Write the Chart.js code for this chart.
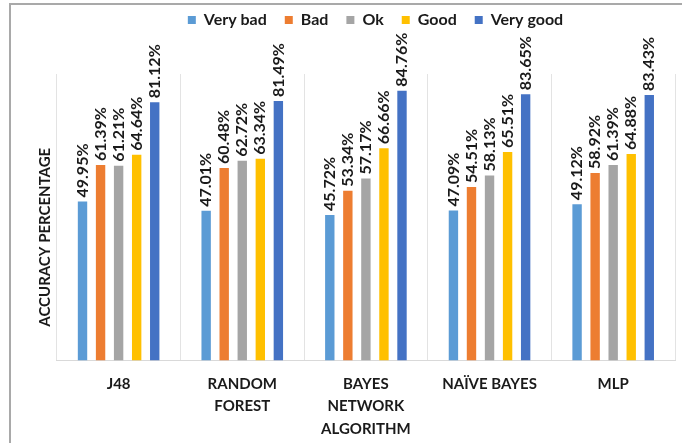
<!DOCTYPE html>
<html>
<head>
<meta charset="utf-8">
<script src="https://cdn.jsdelivr.net/npm/chart.js@4.4.1/dist/chart.umd.min.js"></script>
<style>
  html, body { margin: 0; padding: 0; background: #fff; }
  #wrap { position: relative; width: 682px; height: 443px; }
  #frame {
    position: absolute; left: 9px; top: 3px; right: -4px; bottom: -4px;
    border-left: 2px solid #a9a9a9; border-top: 2px solid #a9a9a9;
    pointer-events: none;
  }
  canvas { position: absolute; left: 0; top: 0; }
</style>
</head>
<body>
<div id="wrap">
  <canvas id="accuracyChart" width="682" height="443"></canvas>
  <div id="frame"></div>
</div>
<script>
// Accuracy per algorithm, split by rating class
const algorithms = ['J48', ['RANDOM', 'FOREST'], ['BAYES', 'NETWORK', 'ALGORITHM'], 'NAÏVE BAYES', 'MLP'];
const classNames = ['Very bad', 'Bad', 'Ok', 'Good', 'Very good'];
const classColors = ['#5b9bd5', '#ed7d31', '#a5a5a5', '#ffc000', '#4472c4'];

const veryBad = [49.95, 47.01, 45.72, 47.09, 49.12];
const bad = [61.39, 60.48, 53.34, 54.51, 58.92];
const ok = [61.21, 62.72, 57.17, 58.13, 61.39];
const good = [64.64, 63.34, 66.66, 65.51, 64.88];
const veryGood = [81.12, 81.49, 84.76, 83.65, 83.43];

const seriesValues = [veryBad, bad, ok, good, veryGood];
const FONT = 'Lato, "Open Sans", sans-serif';
const TEXT = '#1a1a1a';
const AXIS_TITLE = 'ACCURACY PERCENTAGE';

// vertical value labels above every bar
const barValueLabels = {
    id: 'barValueLabels',
    afterDatasetsDraw(chart) {
        const ctx = chart.ctx;
        ctx.save();
        ctx.font = 'bold 16px ' + FONT;
        ctx.fillStyle = TEXT;
        ctx.textAlign = 'left';
        ctx.textBaseline = 'middle';
        chart.data.datasets.forEach((ds, i) => {
            chart.getDatasetMeta(i).data.forEach((bar, j) => {
                ctx.save();
                ctx.translate(bar.x, bar.y - 4);
                ctx.rotate(-Math.PI / 2);
                ctx.fillText(ds.data[j].toFixed(2) + '%', 0, 0);
                ctx.restore();
            });
        });
        ctx.restore();
    }
};

// y title drawn a little below the middle of the plot
const yAxisTitle = {
    id: 'yAxisTitle',
    afterDraw(chart) {
        const { ctx, chartArea } = chart;
        ctx.save();
        ctx.translate(chartArea.left - 12, (chartArea.top + chartArea.bottom) / 2 + 20);
        ctx.rotate(-Math.PI / 2);
        ctx.font = 'bold 15px ' + FONT;
        ctx.fillStyle = TEXT;
        ctx.textAlign = 'center';
        ctx.textBaseline = 'middle';
        ctx.fillText(AXIS_TITLE, 0, 0);
        ctx.restore();
    }
};

// give the legend a fixed height, then move it up and right
const legendSpace = {
    id: 'legendSpace',
    beforeInit(chart) {
        const fit = chart.legend.fit;
        chart.legend.fit = function () {
            fit.bind(chart.legend)();
            this.height = 64;
        };
    },
    afterLayout(chart) {
        chart.legend.left += 26;
        chart.legend.right += 26;
        chart.legend.top -= 16;
        chart.legend.bottom -= 16;
    }
};

new Chart(document.getElementById('accuracyChart'), {
    type: 'bar',
    data: {
        labels: algorithms,
        datasets: classNames.map((name, i) => ({
            label: name,
            data: seriesValues[i],
            backgroundColor: classColors[i],
            borderWidth: 0,
            categoryPercentage: 0.73,
            barPercentage: 0.52
        }))
    },
    options: {
        responsive: false,
        animation: false,
        devicePixelRatio: 1,
        layout: { padding: { left: 24, right: 7, top: 10, bottom: -9 } },
        plugins: {
            tooltip: { enabled: false },
            legend: {
                position: 'top',
                labels: {
                    boxWidth: 8,
                    boxHeight: 8,
                    padding: 18,
                    color: TEXT,
                    font: { family: FONT, size: 16, weight: 'bold' }
                }
            }
        },
        scales: {
            x: {
                grid: {
                    offset: true,
                    drawTicks: false,
                    color: '#e3e3e3',
                    lineWidth: 1
                },
                border: { display: true, color: '#d9d9d9', width: 1 },
                ticks: {
                    autoSkip: false,
                    maxRotation: 0,
                    padding: 12,
                    color: TEXT,
                    font: { family: FONT, size: 15, weight: 'bold', lineHeight: 1.5 }
                }
            },
            y: {
                min: 0,
                max: 90,
                grid: { display: false },
                border: { display: false },
                ticks: { display: false },
                // keeps the room for the title; the text itself comes from yAxisTitle
                title: {
                    display: true,
                    text: AXIS_TITLE,
                    color: 'rgba(0,0,0,0)',
                    font: { family: FONT, size: 14, weight: 'bold' },
                    padding: 4
                }
            }
        }
    },
    plugins: [barValueLabels, yAxisTitle, legendSpace]
});
</script>
</body>
</html>
